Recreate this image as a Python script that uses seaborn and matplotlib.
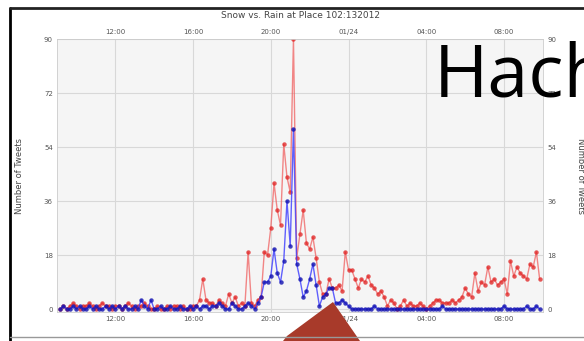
import pandas as pd
import seaborn as sns
import matplotlib.pyplot as plt
import matplotlib.dates as mdates
from matplotlib.patches import Polygon
from matplotlib.lines import Line2D

# valores (tweets a cada 10 min, a partir de 23/01 09:10)
inicio = "2012-01-23 09:10"
passo = "10min"

chuva = [0, 1, 0, 1, 2, 1, 0, 1, 1, 2, 1, 0, 1, 2, 1, 1, 0, 1, 1, 0,
         1, 2, 1, 0, 1, 1, 2, 1, 0, 0, 1, 0, 0, 1, 0, 1, 1, 0, 1, 0,
         0, 1, 1, 3,
         10, 3, 2, 2, 1, 3, 2, 1, 5, 2,
         4, 1, 2, 1, 19, 2, 1, 3, 4, 19,
         18, 27, 42, 33, 28, 55, 44, 39, 90, 17,
         25, 33, 22, 20, 24, 17, 9, 5, 5, 10,
         7, 7, 8, 6, 19, 13, 13, 10, 7, 10,
         9, 11, 8, 7, 5, 6, 4, 1, 3, 2,
         0, 1, 3, 1, 2, 1, 1, 2, 1, 0,
         1, 2, 3, 3, 2, 2, 2, 3, 2, 3,
         4, 7, 5, 4, 12, 6, 9, 8, 14, 9,
         10, 8, 9, 10, 5, 16, 11, 14, 12, 11,
         10, 15, 14, 19, 10]

neve = [0, 1, 0, 0, 1, 0, 1, 0, 0, 1, 0, 1, 0, 0, 1, 0, 1, 0, 1, 0,
        1, 0, 0, 1, 0, 3, 1, 0, 3, 0, 0, 1, 0, 0, 1, 0, 0, 1, 0, 0,
        1, 0, 1, 0,
        1, 1, 0, 1, 1, 2, 1, 0, 0, 2,
        1, 0, 0, 1, 2, 1, 0, 2, 4, 9,
        9, 11, 20, 12, 9, 16, 36, 21, 60, 15,
        10, 4, 6, 10, 15, 8, 1, 4, 5, 7,
        7, 2, 2, 3, 2, 1, 0, 0, 0, 0,
        0, 0, 0, 1, 0, 0, 0, 0, 0, 0,
        0, 0, 0, 0, 0, 0, 0, 0, 0, 0,
        0, 0, 0, 0, 1, 0, 0, 0, 0, 0,
        0, 0, 0, 0, 0, 0, 0, 0, 0, 0,
        0, 0, 0, 1, 0, 0, 0, 0, 0, 0,
        1, 0, 0, 1, 0]

yticks = [0, 18, 36, 54, 72, 90]
titulo = "Snow vs. Rain at Place 102:132012"

tempo = pd.date_range(inicio, periods=len(chuva), freq=passo)
df = pd.DataFrame({"tempo": tempo, "chuva": chuva, "neve": neve})

sns.set_style("whitegrid")
fig = plt.figure(figsize=(5.84, 3.41), dpi=100)
fig.patch.set_facecolor("white")
ax = fig.add_axes([0.0976, 0.085, 0.832, 0.80])
ax.set_facecolor("#f5f5f5")

sns.lineplot(data=df, x="tempo", y="chuva", ax=ax, color="#f06060", lw=1,
             alpha=0.75, marker="o", markersize=3.2, markeredgewidth=0,
             markerfacecolor="#e02020")
sns.lineplot(data=df, x="tempo", y="neve", ax=ax, color="#3a3aff", lw=1,
             alpha=0.8, marker="o", markersize=3.2, markeredgewidth=0,
             markerfacecolor="#1010b0")

ax.set_xlim(pd.Timestamp("2012-01-23 09:00"), pd.Timestamp("2012-01-24 10:00"))
ax.set_ylim(-1, 90)
ax.set_yticks(yticks)


def fmt_hora(x, pos):
    d = mdates.num2date(x)
    if d.hour == 0:
        return d.strftime("%m/%d")
    return d.strftime("%H:%M")


ax.xaxis.set_major_locator(mdates.HourLocator(byhour=[0, 4, 8, 12, 16, 20]))
ax.xaxis.set_major_formatter(plt.FuncFormatter(fmt_hora))
ax.tick_params(labelsize=5, colors="#555555", length=0, pad=3,
               top=True, labeltop=True, right=True, labelright=True)
ax.grid(True, color="#d8d8d8", lw=0.8)
for s in ax.spines.values():
    s.set_color("#cccccc")
    s.set_linewidth(0.6)

ax.set_xlabel("")
ax.set_ylabel("Number of Tweets", fontsize=6, color="#444444", labelpad=14)
ax2 = ax.secondary_yaxis("right")
ax2.set_yticks([])
ax2.set_ylabel("Number of Tweets", fontsize=6, color="#444444",
               rotation=270, labelpad=30)
for s in ax2.spines.values():
    s.set_visible(False)

fig.text(0.515, 0.955, titulo, ha="center", va="center", fontsize=6.5,
         color="#444444")

# elementos do slide por cima do grafico
fig.text(0.743, 0.718, "Hach", fontsize=53, color="black",
         family=["Open Sans", "DejaVu Sans"], ha="left", va="baseline")
fig.patches.append(Polygon([(283 / 584, 0), (287 / 584, 5 / 341),
                            (333 / 584, 39 / 341), (360 / 584, 0)],
                           closed=True, transform=fig.transFigure,
                           facecolor="#a83a2a", edgecolor="none"))
fig.lines.append(Line2D([10 / 584, 10 / 584], [0, 333 / 341],
                        transform=fig.transFigure, color="black", lw=2))
fig.lines.append(Line2D([10 / 584, 1], [333 / 341, 333 / 341],
                        transform=fig.transFigure, color="#222222", lw=2))
fig.lines.append(Line2D([10 / 584, 1], [4 / 341, 4 / 341],
                        transform=fig.transFigure, color="#999999", lw=1))

plt.savefig("out.png", dpi=100)
